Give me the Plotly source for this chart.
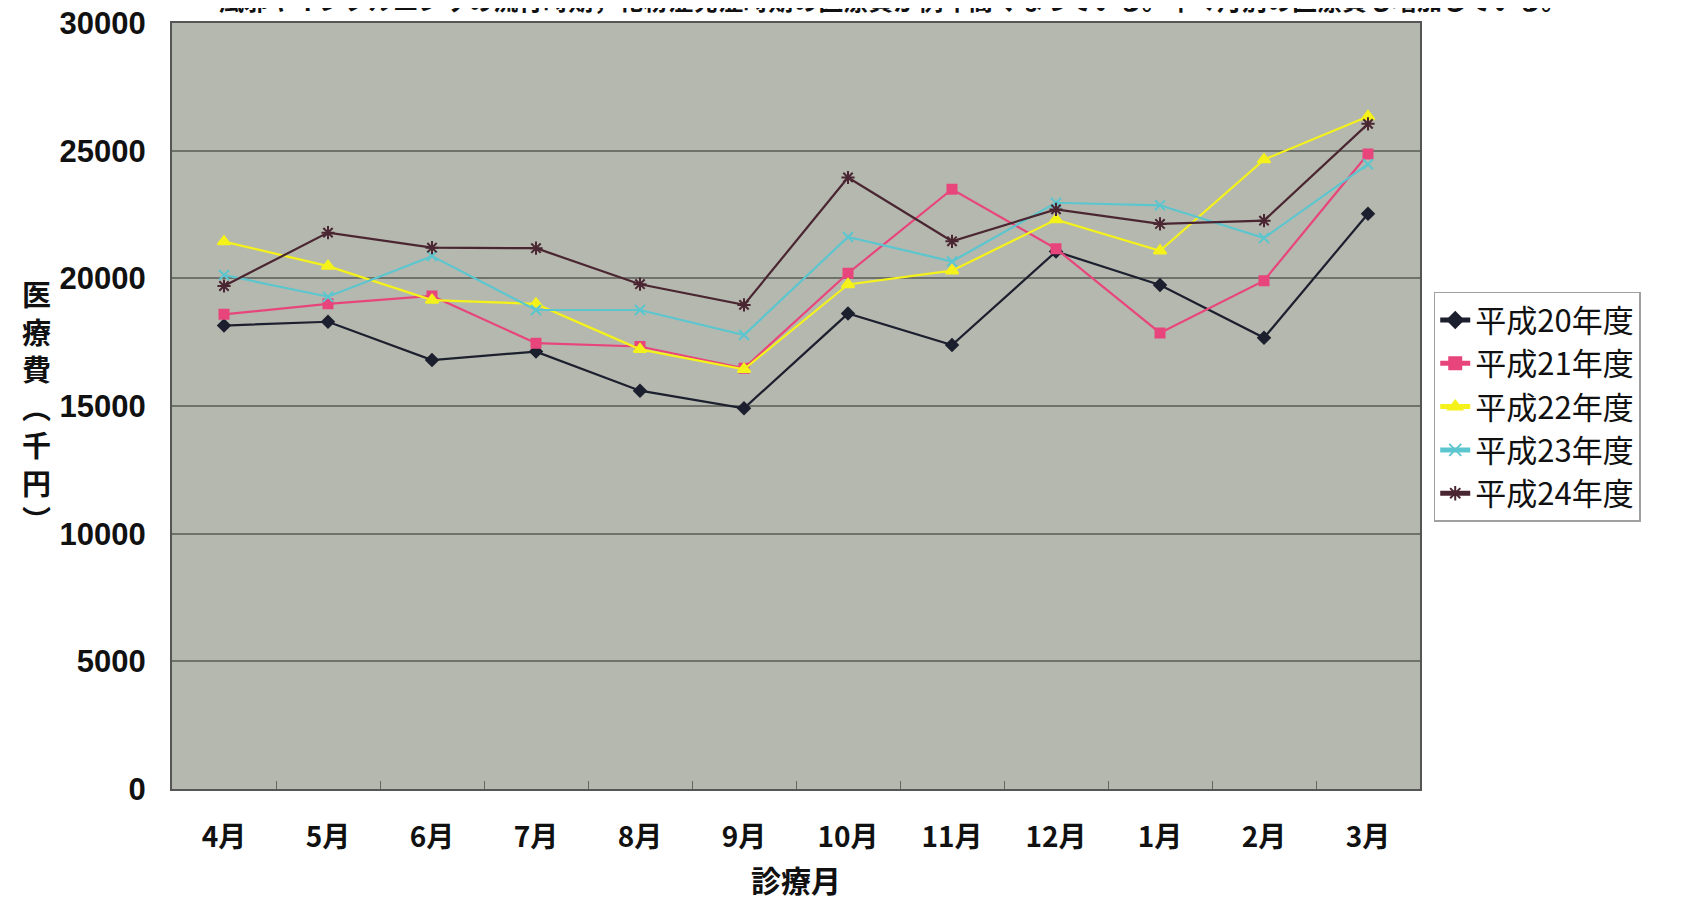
import plotly.graph_objects as go

months = ["4月", "5月", "6月", "7月", "8月", "9月", "10月", "11月", "12月", "1月", "2月", "3月"]
h20 = [18150, 18300, 16800, 17130, 15600, 14910, 18620, 17390, 21050, 19740, 17670, 22530]
h21 = [18590, 19000, 19310, 17460, 17330, 16480, 20200, 23490, 21160, 17860, 19910, 24870]
h22 = [21440, 20480, 19150, 19000, 17220, 16440, 19760, 20300, 22300, 21080, 24650, 26340]
h23 = [20130, 19280, 20870, 18760, 18760, 17780, 21620, 20660, 22960, 22860, 21580, 24470]
h24 = [19700, 21790, 21200, 21180, 19770, 18960, 23950, 21450, 22700, 22130, 22260, 26050]
names = ["平成20年度", "平成21年度", "平成22年度", "平成23年度", "平成24年度"]
yticks = [0, 5000, 10000, 15000, 20000, 25000, 30000]

series = [h20, h21, h22, h23, h24]
colors = ["#1c1f2e", "#e8457c", "#f4f21a", "#5cc6cf", "#4a2632"]
symbols = ["diamond", "square", "triangle-up", "x-thin-open", "asterisk-open"]
msizes = [9, 9, 11, 10, 11]

fig = go.Figure()
for s, n, c, sym, ms in zip(series, names, colors, symbols, msizes):
    fig.add_trace(go.Scatter(
        x=months, y=s, name=n, mode="lines+markers",
        line=dict(color=c, width=2.2),
        marker=dict(symbol=sym, size=ms, color=c, line=dict(color=c, width=2)),
    ))

cjk = "Noto Sans CJK JP, sans-serif"
# the page body adds an 8px offset, so the figure is 8px smaller and margins shifted
fig.update_layout(
    template="none",
    width=1676, height=891,
    margin=dict(l=164, r=264, t=15, b=110, autoexpand=False),
    paper_bgcolor="white",
    plot_bgcolor="#b5b8ae",
    showlegend=True,
    legend=dict(
        x=1.011, y=0.649, xanchor="left", yanchor="top",
        bgcolor="white", bordercolor="#a0a0a0", borderwidth=1.5,
        font=dict(family=cjk, size=31, color="#111"),
        tracegroupgap=0, itemsizing="constant",
    ),
    xaxis=dict(
        type="category", categoryorder="array", categoryarray=months,
        range=[-0.5, 11.5], showgrid=False, automargin=False,
        showline=True, linecolor="#555", linewidth=2, mirror=True,
        ticks="inside", tickson="boundaries", ticklen=8, tickcolor="#666",
        tickfont=dict(family=cjk, size=28, color="#111", weight="bold"),
        ticklabelstandoff=22,
    ),
    yaxis=dict(
        range=[0, 30000], tickvals=yticks, ticktext=[str(v) for v in yticks],
        showgrid=True, gridcolor="#6f716b", gridwidth=1.5, automargin=False,
        showline=True, linecolor="#555", linewidth=2, mirror=True,
        ticks="", zeroline=False, ticklabeloverflow="allow",
        tickfont=dict(family="Liberation Sans, Arial, sans-serif", size=31, color="#111", weight="bold"),
        ticklabelstandoff=18,
    ),
)

fig.add_annotation(
    text="診療月", xref="paper", yref="paper", x=0.5, y=0, yanchor="middle",
    yshift=-90, showarrow=False,
    font=dict(family=cjk, size=30, color="#111", weight="bold"),
)
fig.add_annotation(
    text="医<br>療<br>費<br>︵<br>千<br>円<br>︶", xref="paper", yref="paper",
    x=0, y=0.5, xanchor="center", yanchor="middle", xshift=-136, yshift=0,
    showarrow=False,
    font=dict(family=cjk, size=29, color="#111", weight="bold"),
)
fig.add_annotation(
    text="風邪やインフルエンザの流行時期，花粉症発症時期の医療費が例年高くなっている。年々月別の医療費も増加している。",
    xref="paper", yref="paper", x=0.577, y=1, xanchor="center", yanchor="middle",
    yshift=24, showarrow=False,
    font=dict(family=cjk, size=25, color="#111", weight="bold"),
)

fig.write_html("out.html")
